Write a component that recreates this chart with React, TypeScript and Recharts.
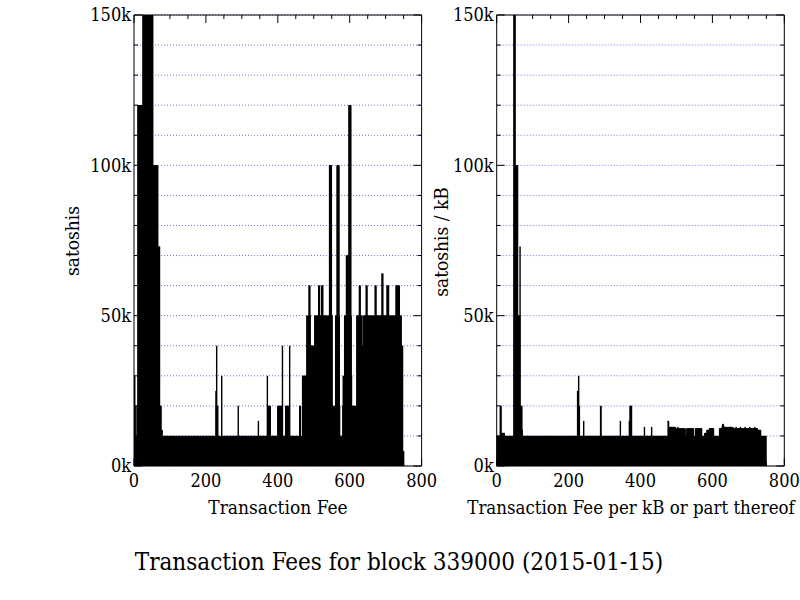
import React from 'react';
import { BarChart, Bar, XAxis, YAxis, CartesianGrid, ReferenceArea } from 'recharts';

// Transaction fee (in thousands of satoshis) for each transaction of the block, by index
const feeK: number[] = [
  // 0-10
  10, 30, 30, 10, 10, 20, 10, 10, 10, 20, 10,
  // 11-24
  120, 120, 40, 120, 120, 120, 30, 120, 120, 120, 40, 120, 120, 120,
  // 25-52
  200, 180, 160, 250, 170, 200, 300, 160, 190, 220, 160, 175, 200, 240,
  160, 180, 210, 165, 190, 300, 170, 160, 200, 230, 180, 160, 190, 210,
  // 53-66
  100, 100, 100, 50, 100, 100, 100, 40, 100, 100, 100, 100, 30, 100,
  // 67-78
  73, 73, 73, 40, 73, 20, 20, 20, 20, 12, 12, 12,
  // 79-227 (149)
  10, 10, 10, 10, 10, 10, 10, 10, 10, 10,
  10, 10, 10, 10, 10, 10, 10, 10, 10, 10,
  10, 10, 10, 10, 10, 10, 10, 10, 10, 10,
  10, 10, 10, 10, 10, 10, 10, 10, 10, 10,
  10, 10, 10, 10, 10, 10, 10, 10, 10, 10,
  10, 10, 10, 10, 10, 10, 10, 10, 10, 10,
  10, 10, 10, 10, 10, 10, 10, 10, 10, 10,
  10, 10, 10, 10, 10, 10, 10, 10, 10, 10,
  10, 10, 10, 10, 10, 10, 10, 10, 10, 10,
  10, 10, 10, 10, 10, 10, 10, 10, 10, 10,
  10, 10, 10, 10, 10, 10, 10, 10, 10, 10,
  10, 10, 10, 10, 10, 10, 10, 10, 10, 10,
  10, 10, 10, 10, 10, 10, 10, 10, 10, 10,
  10, 10, 10, 10, 10, 10, 10, 10, 10, 10,
  10, 10, 10, 10, 10, 10, 10, 10, 10,
  // 228-233
  25, 20, 40, 20, 10, 20,
  // 234-243
  10, 10, 10, 10, 10, 10, 10, 10, 10, 10,
  // 244
  30,
  // 245-289 (45)
  10, 10, 10, 10, 10, 10, 10, 10, 10, 10,
  10, 10, 10, 10, 10, 10, 10, 10, 10, 10,
  10, 10, 10, 10, 10, 10, 10, 10, 10, 10,
  10, 10, 10, 10, 10, 10, 10, 10, 10, 10,
  10, 10, 10, 10, 10,
  // 290
  20,
  // 291-345 (55)
  10, 10, 10, 10, 10, 10, 10, 10, 10, 10,
  10, 10, 10, 10, 10, 10, 10, 10, 10, 10,
  10, 10, 10, 10, 10, 10, 10, 10, 10, 10,
  10, 10, 10, 10, 10, 10, 10, 10, 10, 10,
  10, 10, 10, 10, 10, 10, 10, 10, 10, 10,
  10, 10, 10, 10, 10,
  // 346
  15,
  // 347-370 (24)
  10, 10, 10, 10, 10, 10, 10, 10, 10, 10,
  10, 10, 10, 10, 10, 10, 10, 10, 10, 10,
  10, 10, 10, 10,
  // 371-379
  30, 20, 20, 10, 20, 20, 10, 20, 20,
  // 380-399 (20)
  10, 10, 10, 10, 10, 10, 10, 10, 10, 10,
  10, 10, 10, 10, 10, 10, 10, 10, 10, 10,
  // 400-413
  20, 20, 10, 20, 20, 20, 10, 20, 20, 20, 10, 20, 20, 40,
  // 414-421
  10, 10, 10, 10, 10, 10, 10, 10,
  // 422-433
  20, 20, 20, 10, 20, 20, 20, 20, 10, 20, 20, 40,
  // 434-460 (27)
  10, 10, 10, 10, 10, 10, 10, 10, 10, 10,
  10, 10, 10, 10, 10, 10, 10, 10, 10, 10,
  10, 10, 10, 10, 10, 10, 10,
  // 461-463
  20, 20, 20,
  // 464-468
  10, 10, 10, 10, 10,
  // 469-480
  30, 30, 30, 20, 30, 30, 30, 30, 20, 30, 30, 30,
  // 481-486
  50, 50, 40, 50, 50, 50,
  // 487-492
  60, 60, 60, 50, 40, 40,
  // 493-503
  40, 30, 40, 40, 40, 30, 40, 40, 40, 40, 50,
  // 504-513
  50, 50, 40, 50, 50, 50, 50, 40, 50, 50,
  // 514-516
  60, 60, 60,
  // 517-521
  50, 50, 50, 50, 50,
  // 522-525
  60, 60, 60, 60,
  // 526-543
  50, 50, 50, 50, 50, 50, 50, 50, 50, 50, 50, 40, 50, 50, 40, 50, 50, 50,
  // 544-549
  100, 100, 100, 100, 100, 100,
  // 550-560
  50, 50, 20, 20, 20, 10, 20, 20, 10, 20, 20,
  // 561-564
  50, 50, 50, 50,
  // 565-570
  100, 100, 100, 100, 100, 100,
  // 571-574
  50, 20, 10, 10,
  // 575-580
  10, 10, 10, 10, 10, 10,
  // 581-585
  20, 30, 20, 30, 20,
  // 586-590
  50, 50, 50, 50, 50,
  // 591-597
  70, 70, 70, 70, 70, 40, 50,
  // 598-603
  120, 120, 120, 120, 120, 120,
  // 604-606
  50, 30, 20,
  // 607-619
  20, 20, 10, 20, 20, 20, 10, 20, 20, 10, 20, 20, 20,
  // 620-626
  50, 50, 50, 50, 50, 50, 50,
  // 627-629
  60, 60, 60,
  // 630-642
  50, 50, 50, 50, 50, 40, 40, 40, 40, 50, 50, 50, 50,
  // 643-645
  50, 50, 50,
  // 646-648
  60, 60, 60,
  // 649-670
  50, 50, 50, 50, 50, 50, 40, 50, 50, 50, 50,
  50, 50, 50, 50, 40, 50, 50, 50, 50, 50, 50,
  // 671-673
  60, 60, 60,
  // 674-689
  50, 50, 50, 50, 50, 50, 50, 50, 50, 50, 50, 50, 50, 50, 50, 50,
  // 690-692
  64, 64, 64,
  // 693-703
  50, 50, 50, 50, 50, 50, 50, 50, 50, 50, 50,
  // 704-708
  60, 60, 60, 60, 60,
  // 709-728
  50, 50, 50, 50, 40, 50, 50, 50, 50, 50,
  50, 50, 50, 40, 50, 50, 50, 50, 50, 50,
  // 729-738
  60, 60, 60, 60, 60, 60, 60, 60, 60, 60,
  // 739-743
  50, 50, 50, 50, 50,
  // 744-747
  40, 30, 40, 40,
  // 748-750
  5, 5, 5,
];

// Fee per kB or part thereof (in thousands of satoshis) for each transaction
const feePerKbK: number[] = [
  // 0-9
  10, 10, 10, 10, 10, 10, 10, 10, 10, 10,
  // 10-21
  20, 20, 20, 11, 11, 10.5, 11, 11, 10.5, 11, 11, 11,
  // 22-47 (26)
  10, 10, 10, 10, 10, 10, 10, 10, 10, 10,
  10, 10, 10, 10, 10, 10, 10, 10, 10, 10,
  10, 10, 10, 10, 10, 10,
  // 48-51
  200, 250, 180, 300,
  // 52-58
  100, 100, 100, 100, 100, 100, 100,
  // 59-72
  50, 50, 50, 50, 50, 50, 73, 20, 20, 20, 12, 20, 12, 10,
  // 73-224 (152)
  10, 10, 10, 10, 10, 10, 10, 10, 10, 10,
  10, 10, 10, 10, 10, 10, 10, 10, 10, 10,
  10, 10, 10, 10, 10, 10, 10, 10, 10, 10,
  10, 10, 10, 10, 10, 10, 10, 10, 10, 10,
  10, 10, 10, 10, 10, 10, 10, 10, 10, 10,
  10, 10, 10, 10, 10, 10, 10, 10, 10, 10,
  10, 10, 10, 10, 10, 10, 10, 10, 10, 10,
  10, 10, 10, 10, 10, 10, 10, 10, 10, 10,
  10, 10, 10, 10, 10, 10, 10, 10, 10, 10,
  10, 10, 10, 10, 10, 10, 10, 10, 10, 10,
  10, 10, 10, 10, 10, 10, 10, 10, 10, 10,
  10, 10, 10, 10, 10, 10, 10, 10, 10, 10,
  10, 10, 10, 10, 10, 10, 10, 10, 10, 10,
  10, 10, 10, 10, 10, 10, 10, 10, 10, 10,
  10, 10, 10, 10, 10, 10, 10, 10, 10, 10,
  10, 10,
  // 225-231
  25, 20, 20, 30, 20, 20, 10,
  // 232-241
  10, 10, 10, 10, 10, 10, 10, 10, 10, 10,
  // 242
  15,
  // 243-288 (46)
  10, 10, 10, 10, 10, 10, 10, 10, 10, 10,
  10, 10, 10, 10, 10, 10, 10, 10, 10, 10,
  10, 10, 10, 10, 10, 10, 10, 10, 10, 10,
  10, 10, 10, 10, 10, 10, 10, 10, 10, 10,
  10, 10, 10, 10, 10, 10,
  // 289-290
  20, 20,
  // 291-343 (53)
  10, 10, 10, 10, 10, 10, 10, 10, 10, 10,
  10, 10, 10, 10, 10, 10, 10, 10, 10, 10,
  10, 10, 10, 10, 10, 10, 10, 10, 10, 10,
  10, 10, 10, 10, 10, 10, 10, 10, 10, 10,
  10, 10, 10, 10, 10, 10, 10, 10, 10, 10,
  10, 10, 10,
  // 344
  15,
  // 345-368 (24)
  10, 10, 10, 10, 10, 10, 10, 10, 10, 10,
  10, 10, 10, 10, 10, 10, 10, 10, 10, 10,
  10, 10, 10, 10,
  // 369-375
  15, 10, 20, 20, 20, 20, 20,
  // 376-410 (35)
  10, 10, 10, 10, 10, 10, 10, 10, 10, 10,
  10, 10, 10, 10, 10, 10, 10, 10, 10, 10,
  10, 10, 10, 10, 10, 10, 10, 10, 10, 10,
  10, 10, 10, 10, 10,
  // 411
  13,
  // 412-430 (19)
  10, 10, 10, 10, 10, 10, 10, 10, 10, 10,
  10, 10, 10, 10, 10, 10, 10, 10, 10,
  // 431
  13,
  // 432-476 (45)
  10, 10, 10, 10, 10, 10, 10, 10, 10, 10,
  10, 10, 10, 10, 10, 10, 10, 10, 10, 10,
  10, 10, 10, 10, 10, 10, 10, 10, 10, 10,
  10, 10, 10, 10, 10, 10, 10, 10, 10, 10,
  10, 10, 10, 10, 10,
  // 477-497
  15, 15, 13, 13, 12, 13, 13, 12.5, 13, 13, 12, 13, 13, 13, 12.5, 13, 12, 13, 13, 12.5, 13,
  // 498-501
  10, 10, 12.5, 12.5,
  // 502-524
  12.5, 12.5, 13, 12.5, 12.5, 12.5, 12, 12.5, 12.5, 12.5, 12.5, 12.5,
  12, 12.5, 12.5, 12.5, 12.5, 12.5, 12.5, 12, 12.5, 12.5, 12.5,
  // 525-528
  10, 10, 10, 10,
  // 529-547
  12.5, 12.5, 12.5, 12, 12.5, 12.5, 12.5, 12.5, 12.5, 12.5,
  12, 12.5, 12.5, 12.5, 12.5, 12.5, 12.5, 12.5, 12.5,
  // 548-552
  10, 10, 10, 10, 10,
  // 553-570
  12.5, 12.5, 12.5, 12.5, 12, 12.5, 12.5, 12.5, 12.5,
  12.5, 12.5, 12.5, 12, 12.5, 12.5, 12.5, 12.5, 12.5,
  // 571-578
  10, 10, 10, 10, 10, 10, 10, 10,
  // 579-584
  11, 11, 11, 11, 11, 11,
  // 585-591
  12, 12, 12, 12, 12, 12, 12,
  // 592-603
  12.5, 12.5, 12.5, 12.5, 12.5, 12.5, 12.5, 12.5, 12.5, 12.5, 12.5, 12.5,
  // 604-619
  10, 10, 10, 10, 10, 10, 10, 10, 10, 10, 10, 10, 10, 10, 10, 10,
  // 620-626
  12.5, 12.5, 12.5, 12.5, 12.5, 12.5, 12.5,
  // 627-633
  13, 13.5, 14, 14, 13.5, 13, 13,
  // 634-647
  13, 12.5, 13, 12.5, 13, 13, 12.5, 13, 12.5, 12.5, 13, 12.5, 13, 12.5,
  // 648-653
  13, 13, 13, 13, 13, 13,
  // 654-725 (72)
  12.5, 12.5, 12.5, 13, 12.5, 12.5, 12.5, 12, 12.5, 12.5,
  12.5, 12.5, 13, 12.5, 12.5, 12.5, 12.5, 12.5, 12, 12.5,
  12.5, 12.5, 12.5, 12.5, 13, 12.5, 12.5, 12.5, 12.5, 12.5,
  12, 12.5, 12.5, 12.5, 12.5, 12.5, 12.5, 13, 12.5, 12.5,
  12.5, 12.5, 12.5, 12, 12.5, 12.5, 12.5, 12.5, 12.5, 12.5,
  13, 12.5, 12.5, 12.5, 12.5, 12.5, 12, 12.5, 12.5, 12.5,
  12.5, 12.5, 12.5, 12.5, 13, 12.5, 12.5, 12.5, 12.5, 12.5,
  12.5, 12.5,
  // 726-734
  12, 12, 12, 12, 12, 12, 12, 12, 12,
  // 735-749
  10, 10, 10, 10, 10, 10, 10, 10, 10, 10, 10, 10, 10, 10, 10,
];

const xTicks = [0, 50, 100, 150, 200, 250, 300, 350, 400, 450, 500, 550, 600, 650, 700, 750, 800];
const xLabelTicks = [0, 200, 400, 600, 800];
const yTicks = [0, 10000, 20000, 30000, 40000, 50000, 60000, 70000, 80000, 90000, 100000,
  110000, 120000, 130000, 140000, 150000];
const yLabelTicks = [0, 50000, 100000, 150000];

const feeData = feeK.map((v, i) => ({ i, value: v * 1000 }));
const perKbData = feePerKbK.map((v, i) => ({ i, value: v * 1000 }));

const FONT = '"DejaVu Serif", serif';
const PLOT_TOP = 15;
const PLOT_W = 287.6;
const PLOT_H = 451;
const PLOT_BOTTOM = PLOT_TOP + PLOT_H;
const Y_AXIS_W = 50;
const X_AXIS_H = 30;
const BAR_W = 1.4;

const textStyle: React.CSSProperties = { fontFamily: FONT, fontStretch: 'condensed' };

const makeYTick = (plotLeft: number) => (props: any) => {
  const { payload, y } = props;
  const v = payload.value as number;
  const ty = y as number;
  const ax = plotLeft;
  const major = yLabelTicks.includes(v);
  const len = major ? 8 : 4;
  return (
    <g key={`yt-${v}`}>
      <line x1={ax} x2={ax + len} y1={ty} y2={ty} stroke="#000" strokeWidth={1} />
      <line x1={ax + PLOT_W} x2={ax + PLOT_W - len} y1={ty} y2={ty} stroke="#000" strokeWidth={1} />
      {major && (
        <text x={ax - 3} y={ty} dy="0.36em" textAnchor="end" fontSize={18} fill="#000" style={textStyle}>
          {`${v / 1000}k`}
        </text>
      )}
    </g>
  );
};

const renderXTick = (props: any) => {
  const { payload, x } = props;
  const v = payload.value as number;
  const tx = x as number;
  const ay = PLOT_BOTTOM;
  const major = xLabelTicks.includes(v);
  const len = major ? 8 : 4;
  return (
    <g key={`xt-${v}`}>
      <line x1={tx} x2={tx} y1={ay} y2={ay - len} stroke="#000" strokeWidth={1} />
      <line x1={tx} x2={tx} y1={PLOT_TOP} y2={PLOT_TOP + len} stroke="#000" strokeWidth={1} />
      {major && (
        <text x={tx} y={ay + 21} textAnchor="middle" fontSize={18} fill="#000" style={textStyle}>
          {String(v)}
        </text>
      )}
    </g>
  );
};

const renderBar = (props: any) => {
  const { x, y, width, height } = props;
  if (!(height > 0)) return <g />;
  return <rect x={x + width / 2 - BAR_W / 2} y={y} width={BAR_W} height={height} fill="#000" />;
};

function Panel({ data, width, plotLeft }: { data: { i: number; value: number }[]; width: number; plotLeft: number }) {
  const height = 500;
  return (
    <BarChart
      width={width}
      height={height}
      data={data}
      margin={{
        top: PLOT_TOP,
        left: plotLeft - Y_AXIS_W,
        right: width - plotLeft - PLOT_W,
        bottom: height - PLOT_BOTTOM - X_AXIS_H,
      }}
      barCategoryGap={0}
      barGap={0}
    >
      <CartesianGrid vertical={false} horizontal={true} stroke="#7070f0" strokeDasharray="1 2" />
      <XAxis
        dataKey="i"
        type="number"
        domain={[0, 800]}
        ticks={xTicks}
        interval={0}
        height={X_AXIS_H}
        tickSize={0}
        tickMargin={0}
        axisLine={false}
        tickLine={false}
        tick={renderXTick}
        allowDataOverflow
      />
      <YAxis
        type="number"
        domain={[0, 150000]}
        ticks={yTicks}
        interval={0}
        width={Y_AXIS_W}
        tickSize={0}
        tickMargin={0}
        axisLine={false}
        tickLine={false}
        tick={makeYTick(plotLeft)}
        allowDataOverflow
      />
      <Bar dataKey="value" fill="#000" shape={renderBar} isAnimationActive={false} />
      <ReferenceArea x1={0} x2={800} y1={0} y2={150000} fill="none" stroke="#000" strokeWidth={1} fillOpacity={0} />
    </BarChart>
  );
}

export default function App() {
  return (
    <div style={{ position: 'absolute', left: 0, top: 0, width: 800, height: 600, background: '#fff', overflow: 'hidden' }}>
      <div style={{ position: 'absolute', left: 0, top: 0 }}>
        <Panel data={feeData} width={460} plotLeft={134} />
      </div>
      <div style={{ position: 'absolute', left: 400, top: 0 }}>
        <Panel data={perKbData} width={400} plotLeft={96.7} />
      </div>
      <svg width={800} height={600} style={{ position: 'absolute', left: 0, top: 0, pointerEvents: 'none' }}>
        <text x={79} y={241} transform="rotate(-90 79 241)" textAnchor="middle" fontSize={19} style={textStyle}>
          satoshis
        </text>
        <text x={448} y={242} transform="rotate(-90 448 242)" textAnchor="middle" fontSize={19} style={textStyle}>
          satoshis / kB
        </text>
        <text x={278} y={514} textAnchor="middle" fontSize={19} style={textStyle}>
          Transaction Fee
        </text>
        <text x={631} y={514} textAnchor="middle" fontSize={18.5} style={textStyle}>
          Transaction Fee per kB or part thereof
        </text>
        <text x={399} y={570} textAnchor="middle" fontSize={24} style={textStyle}>
          Transaction Fees for block 339000 (2015-01-15)
        </text>
      </svg>
    </div>
  );
}
